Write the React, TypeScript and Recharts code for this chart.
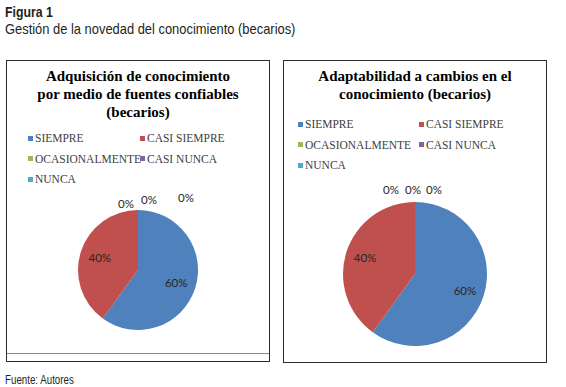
import { PieChart, Pie, Cell } from "recharts";

const categories = ["SIEMPRE", "CASI SIEMPRE", "OCASIONALMENTE", "CASI NUNCA", "NUNCA"];
const colors = ["#4F81BD", "#C0504D", "#9BBB59", "#8064A2", "#4BACC6"];

const fuentesValues = [60, 40, 0, 0, 0];
const cambiosValues = [60, 40, 0, 0, 0];

const fuentesTitle = ["Adquisición de conocimiento", "por medio de fuentes confiables", "(becarios)"];
const cambiosTitle = ["Adaptabilidad a cambios en el", "conocimiento (becarios)"];

const RAD = Math.PI / 180;
const SERIF = "'Liberation Serif', 'Times New Roman', 'DejaVu Serif', serif";
const NARROW = "'Liberation Sans', Arial, sans-serif";

type ChartProps = {
  left: number;
  title: string[];
  values: number[];
  legendTop: number;
  legendCols: number[];
  cx: number;
  cy: number;
  radius: number;
  innerRatio: number;
  zeroOffsets: number[][];
  height: number;
  bottomRule?: boolean;
};

const PieBox = (p: ChartProps) => {
  const data = categories.map((name, i) => ({ name, value: p.values[i] }));

  const renderLabel = (props: any) => {
    const { cx, cy, midAngle, outerRadius, percent, index } = props;
    let x, y;
    if (p.values[index] === 0) {
      const off = p.zeroOffsets[index - 2] || [0, 0];
      x = cx + off[0];
      y = cy - outerRadius + off[1];
    } else {
      const r = outerRadius * p.innerRatio;
      x = cx + r * Math.cos(-midAngle * RAD);
      y = cy + r * Math.sin(-midAngle * RAD);
    }
    return (
      <text
        key={`l-${index}`}
        x={x}
        y={y}
        textAnchor="middle"
        dominantBaseline="central"
        fontFamily="Lato, 'Open Sans', sans-serif"
        fontSize={11.5}
        fill="#262626"
      >
        {`${Math.round(percent * 100)}%`}
      </text>
    );
  };

  return (
    <div
      style={{
        position: "absolute",
        left: p.left,
        top: 60,
        width: 264,
        height: p.height,
        boxSizing: "border-box",
        border: "1.5px solid #2b2b2b",
        background: "#fff",
      }}
    >
      <div
        style={{
          position: "absolute",
          left: 0,
          right: 0,
          top: 6,
          textAlign: "center",
          fontFamily: SERIF,
          fontWeight: "bold",
          fontSize: 15,
          lineHeight: "18px",
          color: "#000",
        }}
      >
        {p.title.map((t) => (
          <div key={t}>{t}</div>
        ))}
      </div>
      {categories.map((c, i) => (
        <div
          key={c}
          style={{
            position: "absolute",
            left: p.legendCols[i % 2],
            top: p.legendTop + Math.floor(i / 2) * 20.5 - 7,
            height: 14,
            display: "flex",
            alignItems: "center",
            fontFamily: SERIF,
            fontSize: 11.5,
            color: "#404040",
            whiteSpace: "nowrap",
          }}
        >
          <span style={{ width: 5, height: 5, background: colors[i], marginRight: 2 }} />
          {c}
        </div>
      ))}
      <div style={{ position: "absolute", left: 0, top: 0 }}>
        <PieChart width={262} height={p.height - 3} margin={{ top: 0, right: 0, bottom: 0, left: 0 }}>
          <Pie
            data={data}
            dataKey="value"
            nameKey="name"
            cx={p.cx}
            cy={p.cy}
            outerRadius={p.radius}
            startAngle={90}
            endAngle={-270}
            stroke="none"
            labelLine={false}
            label={renderLabel}
            isAnimationActive={false}
          >
            {data.map((d, i) => (
              <Cell key={d.name} fill={colors[i]} />
            ))}
          </Pie>
        </PieChart>
      </div>
      {p.bottomRule && (
        <div
          style={{
            position: "absolute",
            left: 0,
            right: 0,
            top: 292,
            borderTop: "1px solid #8a8a8a",
          }}
        />
      )}
    </div>
  );
};

const narrowText = (scale: number) => ({
  position: "absolute" as const,
  left: 5,
  whiteSpace: "nowrap" as const,
  transform: `scaleX(${scale})`,
  transformOrigin: "left top",
  fontFamily: NARROW,
  color: "#231f20",
});

export default function App() {
  return (
    <div
      style={{
        position: "absolute",
        left: 0,
        top: 0,
        width: 566,
        height: 387,
        background: "#fff",
        overflow: "hidden",
      }}
    >
      <div style={{ ...narrowText(0.82), top: 3, fontSize: 15, fontWeight: "bold" }}>Figura 1</div>
      <div style={{ ...narrowText(0.86), top: 20, fontSize: 15 }}>
        Gestión de la novedad del conocimiento (becarios)
      </div>
      <PieBox
        left={6}
        height={302}
        title={fuentesTitle}
        values={fuentesValues}
        legendTop={77}
        legendCols={[21, 133]}
        cx={131}
        cy={209}
        radius={60}
        innerRatio={0.67}
        zeroOffsets={[[-12, -7], [11, -11], [48, -13]]}
        bottomRule
      />
      <PieBox
        left={283}
        height={303}
        title={cambiosTitle}
        values={cambiosValues}
        legendTop={63}
        legendCols={[14, 135]}
        cx={131}
        cy={213}
        radius={72}
        innerRatio={0.73}
        zeroOffsets={[[-24, -13], [-2, -13], [19, -13]]}
      />
      <div style={{ ...narrowText(0.78), top: 373, fontSize: 12.5 }}>Fuente: Autores</div>
    </div>
  );
}
